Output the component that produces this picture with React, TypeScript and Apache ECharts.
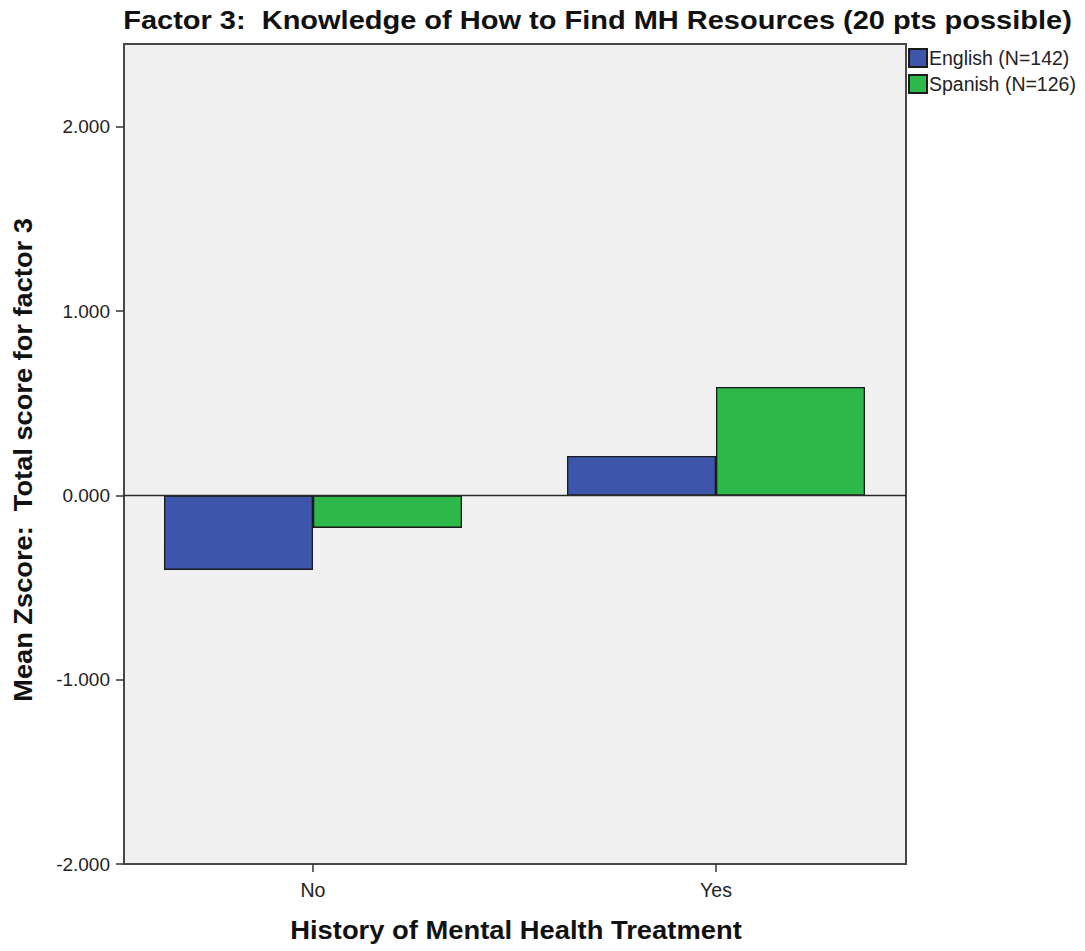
import React, { useEffect, useRef } from "react";
import * as echarts from "echarts";

const categories = ["No", "Yes"];
const englishValues = [-0.404, 0.214];
const spanishValues = [-0.176, 0.589];
const seriesNames = ["English (N=142)", "Spanish (N=126)"];
const yTicks = [-2, -1, 0, 1, 2];
const yMin = -2;
const yMax = 2.45;
const chartTitle = "Factor 3:  Knowledge of How to Find MH Resources (20 pts possible)";
const xTitle = "History of Mental Health Treatment";
const yTitle = "Mean Zscore:  Total score for factor 3";

const W = 1085;
const H = 951;
const PLOT_L = 124;
const PLOT_R = 906;
const PLOT_T = 44;
const PLOT_B = 864;
const GRID_L = 111.5;
const GRID_R = 917.5;
const FONT = "'Liberation Sans', Arial, sans-serif";

export default function App() {
  const ref = useRef<HTMLDivElement>(null);
  useEffect(() => {
    if (!ref.current) return;
    const chart = echarts.init(ref.current, null, { renderer: "svg" });
    chart.setOption({
      animation: false,
      backgroundColor: "#ffffff",
      legend: {
        orient: "vertical",
        left: 908,
        top: 48,
        itemWidth: 18,
        itemHeight: 18,
        itemGap: 6,
        icon: "rect",
        padding: 0,
        textStyle: { fontFamily: FONT, fontSize: 19.5, color: "#222", padding: [0, 0, 0, -3] },
        data: seriesNames,
      },
      grid: {
        left: GRID_L,
        right: W - GRID_R,
        top: PLOT_T,
        bottom: H - PLOT_B,
        show: false,
      },
      xAxis: {
        type: "category",
        data: categories,
        axisLine: { show: false, onZero: false },
        axisTick: { show: true, alignWithLabel: true, length: 8, lineStyle: { color: "#333", width: 1.5 } },
        axisLabel: { fontFamily: FONT, fontSize: 19.5, color: "#222", margin: 16 },
      },
      yAxis: {
        type: "value",
        min: yMin,
        max: yMax,
        interval: 1,
        offset: -(PLOT_L - GRID_L),
        axisLine: { show: false },
        splitLine: { show: false },
        axisTick: { show: true, length: 8, customValues: yTicks, lineStyle: { color: "#333", width: 1.5 } },
        axisLabel: {
          customValues: yTicks,
          fontFamily: FONT,
          fontSize: 19,
          color: "#222",
          margin: 14,
          formatter: (v: number) => v.toFixed(3),
        },
      },
      series: [
        {
          name: seriesNames[0],
          type: "bar",
          data: englishValues,
          barWidth: 149,
          barGap: "0%",
          itemStyle: { color: "#3d56ab", borderColor: "#1a1a1a", borderWidth: 1.3 },
        },
        {
          name: seriesNames[1],
          type: "bar",
          data: spanishValues,
          barWidth: 149,
          barGap: "0%",
          itemStyle: { color: "#2eb84a", borderColor: "#1a1a1a", borderWidth: 1.3 },
        },
      ],
    });
    const zeroY = chart.convertToPixel({ yAxisIndex: 0 }, 0) as number;
    chart.setOption({
      graphic: [
        {
          id: "frame",
          type: "rect",
          z: -1,
          silent: true,
          shape: { x: PLOT_L, y: PLOT_T, width: PLOT_R - PLOT_L, height: PLOT_B - PLOT_T },
          style: { fill: "#f0f0f0", stroke: "#474747", lineWidth: 2 },
        },
        {
          id: "zero",
          type: "line",
          z: 50,
          silent: true,
          shape: { x1: PLOT_L, y1: zeroY, x2: PLOT_R, y2: zeroY },
          style: { stroke: "#2a2a2a", lineWidth: 1.6 },
        },
        {
          id: "title",
          type: "text",
          x: 597.5,
          y: 20,
          scaleX: 1.16,
          silent: true,
          style: {
            text: chartTitle,
            fontFamily: FONT,
            fontWeight: "bold",
            fontSize: 25,
            fill: "#111",
            align: "center",
            verticalAlign: "middle",
          },
        },
        {
          id: "xtitle",
          type: "text",
          x: 516,
          y: 930,
          scaleX: 1.095,
          silent: true,
          style: {
            text: xTitle,
            fontFamily: FONT,
            fontWeight: "bold",
            fontSize: 25,
            fill: "#111",
            align: "center",
            verticalAlign: "middle",
          },
        },
        {
          id: "ytitle",
          type: "text",
          x: 23,
          y: 460,
          rotation: Math.PI / 2,
          scaleX: 1.09,
          silent: true,
          style: {
            text: yTitle,
            fontFamily: FONT,
            fontWeight: "bold",
            fontSize: 25,
            fill: "#111",
            align: "center",
            verticalAlign: "middle",
          },
        },
      ],
    });
    return () => chart.dispose();
  }, []);
  return (
    <div
      ref={ref}
      style={{ position: "fixed", left: 0, top: 0, width: W, height: H }}
    />
  );
}
